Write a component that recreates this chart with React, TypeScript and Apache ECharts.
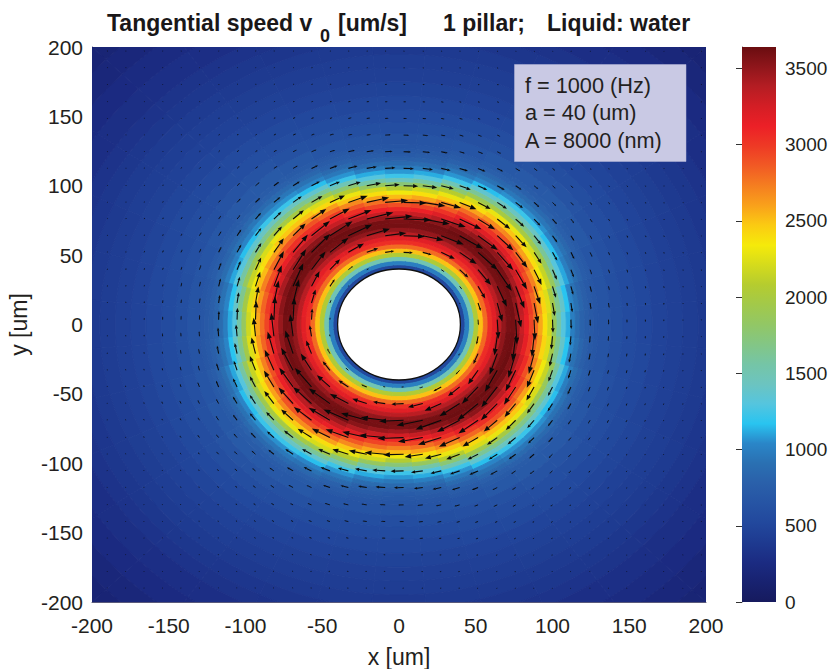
import React, { useEffect, useRef } from "react";
import * as echarts from "echarts";

// radial bin edges of the speed table (um)
const radiusEdges = [40,43,46,49,52,55,58,61,64,67,70,73,76,79,82,85,88,91,94,97,100,103,106,109,112,115,118,121,124,127,130,138,146,155,165,175,185,195,205,215,225,240,255,270,290];
// speed (um/s): one row per direction 0,10,...,170 deg; the field is point-symmetric
const speedRows = [
[520,1000,1500,2050,2500,2800,3050,3180,3350,3500,3590,3600,3480,3300,3120,2950,2780,2580,2380,2180,1850,1550,1300,1120,990,880,800,745,700,670,650,595,555,515,475,445,420,390,355,325,288,248,202,162],
[520,1000,1500,2050,2500,2800,3050,3180,3350,3500,3590,3610,3510,3340,3160,2990,2820,2630,2430,2240,1960,1650,1390,1170,1030,920,830,765,715,680,655,598,556,516,478,446,420,390,356,326,288,248,202,162],
[520,990,1490,2040,2500,2800,3050,3180,3350,3490,3590,3620,3560,3420,3240,3070,2900,2720,2520,2320,2150,1860,1570,1310,1110,990,885,810,750,710,664,606,562,520,482,450,422,392,358,328,289,249,203,163],
[510,990,1490,2030,2490,2800,3050,3190,3370,3500,3600,3630,3590,3460,3300,3130,2970,2800,2600,2400,2220,1920,1620,1370,1160,1030,920,835,770,725,690,620,572,528,486,452,424,394,360,330,290,250,204,164],
[510,980,1480,2030,2490,2790,3040,3180,3360,3490,3590,3630,3610,3510,3360,3190,3040,2890,2690,2490,2290,1980,1680,1420,1220,1060,950,860,790,740,710,636,584,536,492,456,426,396,362,332,291,251,205,165],
[510,980,1480,2030,2490,2790,3040,3170,3360,3490,3590,3620,3600,3500,3350,3180,3030,2880,2680,2480,2290,1980,1680,1420,1220,1060,950,860,790,740,706,634,582,535,490,455,425,395,360,330,290,250,205,165],
[520,990,1490,2040,2500,2800,3050,3180,3370,3500,3600,3630,3590,3460,3300,3130,2970,2800,2600,2400,2220,1920,1620,1370,1160,1030,920,835,770,725,688,618,570,524,484,450,422,392,358,328,289,249,204,164],
[520,1000,1500,2050,2500,2800,3050,3180,3350,3490,3590,3610,3530,3380,3200,3030,2860,2680,2480,2290,2080,1760,1480,1230,1070,960,860,790,735,700,662,602,558,515,475,444,418,388,354,324,287,247,202,162],
[520,1000,1500,2050,2500,2800,3050,3180,3350,3500,3590,3600,3480,3300,3120,2950,2780,2580,2380,2180,1850,1550,1300,1120,990,880,800,745,700,670,648,594,551,511,471,441,416,386,351,321,286,246,201,161],
[520,1000,1500,2050,2500,2800,3050,3180,3350,3500,3600,3580,3450,3260,3080,2910,2720,2520,2320,2060,1750,1450,1230,1080,960,860,785,730,690,660,640,590,550,510,470,440,415,385,350,320,285,245,200,160],
[520,1000,1500,2050,2500,2800,3050,3180,3350,3500,3600,3600,3490,3310,3120,2950,2780,2590,2390,2190,1850,1550,1300,1120,990,880,800,745,700,670,650,596,552,512,472,441,416,386,351,321,286,246,201,161],
[520,1000,1500,2050,2500,2800,3050,3180,3360,3500,3600,3620,3540,3390,3210,3040,2870,2690,2490,2300,2080,1760,1480,1230,1070,960,860,790,735,700,664,606,558,518,478,446,420,390,355,325,288,248,202,162],
[520,1000,1500,2050,2500,2800,3050,3190,3370,3510,3610,3630,3590,3470,3310,3140,2980,2810,2610,2410,2220,1920,1620,1370,1160,1030,920,835,770,725,694,622,570,526,486,452,424,394,360,330,290,250,204,164],
[510,980,1480,2030,2490,2790,3040,3180,3370,3510,3600,3630,3610,3520,3370,3200,3040,2890,2690,2490,2290,1980,1680,1420,1220,1060,950,860,790,740,712,638,586,538,494,458,428,398,364,334,293,253,207,167],
[510,980,1480,2030,2490,2790,3040,3170,3360,3500,3590,3630,3610,3510,3360,3190,3040,2880,2680,2480,2290,1980,1680,1420,1220,1060,950,860,790,740,706,634,582,536,492,456,426,396,362,332,291,251,205,165],
[520,990,1490,2040,2500,2800,3050,3170,3360,3500,3600,3630,3590,3460,3300,3130,2970,2800,2600,2400,2220,1920,1620,1370,1160,1030,920,835,770,725,684,618,572,528,488,454,425,395,360,330,290,250,204,164],
[520,1000,1500,2050,2510,2810,3060,3170,3370,3510,3600,3630,3560,3420,3240,3070,2900,2720,2520,2320,2150,1860,1570,1310,1110,990,885,810,750,710,664,606,562,522,482,450,422,392,358,328,289,249,203,163],
[520,1000,1500,2050,2510,2810,3060,3160,3360,3510,3610,3620,3520,3340,3160,2990,2820,2630,2430,2240,1960,1650,1390,1170,1030,920,830,765,715,680,655,598,556,516,476,446,420,390,356,326,288,248,202,162],
];
const rowStepDeg = 10;

// arrow length (um) per radial bin
const arrowLength = [0.8,1.5,2.5,4,6,8,10,12,14,16,17.5,18,18,17,16.5,16,15,13.5,12,11,9.5,8.5,7.8,7.2,6.7,6.3,5.8,5.3,4.8,4.4,3.6,2.8,2.2,1.6,1.2,1,0.8,0.7,0.6,0.6,0.5,0.5,0.5,0.4];

// quiver grid (um)
const arrowX = [-190,-178,-166,-154,-142,-130,-117.5,-105.5,-93.5,-81.5,-69,-57,-45,-33,-21,-9,3,15.5,27.5,39.5,51.5,64,76,88,100,112,124.5,136.5,148.5,160.5,172.5,185,197];
const arrowY = [197,185,173,160.5,148.5,136.5,124.5,112.5,100,88,76,64,52,39.5,27.5,15.5,3.5,-8.5,-21,-33,-45,-57,-69,-81.5,-93.5,-105.5,-117.5,-130,-142,-154,-166,-178,-190];

const holeRadius = [40];
const xTicks = [-200,-150,-100,-50,0,50,100,150,200];
const yTicks = [-200,-150,-100,-50,0,50,100,150,200];
const barTicks = [0,500,1000,1500,2000,2500,3000,3500];
const speedMax = 3640;
const palette = ["#161a5e","#182270","#1b2b82","#1e3a90","#22489d","#2654a4","#2a60aa","#2a70b2","#2a86c8","#29c4f0","#55c5de","#6cc4c0","#75c5a6","#83c685","#92c765","#a2c94a","#b5cc2f","#d5db1c","#f5ea0a","#fbcb12","#f9a11b","#f57e20","#f15a24","#ee3a25","#ec2027","#d41e25","#b51d23","#8f161b","#6a0d10"];
const infoLines = ["f = 1000 (Hz)", "a = 40 (um)", "A = 8000 (nm)"];

function binOf(r: number): number {
  const j = radiusEdges.findIndex((e, k) => r >= e && r < radiusEdges[k + 1]);
  return j < 0 ? radiusEdges.length - 2 : j;
}

const fieldData: number[][] = [];
for (let i = 0; i < speedRows.length * 2; i++) {
  speedRows[i % speedRows.length].forEach((v, j) => fieldData.push([i, j, v]));
}
const arrowData: number[][] = [];
arrowY.forEach((y) => arrowX.forEach((x) => {
  const r = Math.hypot(x, y);
  if (r >= 41) arrowData.push([x, y, arrowLength[binOf(r)]]);
}));

const fieldItem = (params: any, api: any) => {
  const i = api.value(0), j = api.value(1);
  const t0 = ((i - 0.5) * rowStepDeg * Math.PI) / 180;
  const t1 = ((i + 0.5) * rowStepDeg * Math.PI) / 180;
  const r0 = radiusEdges[j], r1 = radiusEdges[j + 1];
  const pts: number[][] = [];
  for (let k = 0; k <= 3; k++) {
    const t = t0 + ((t1 - t0) * k) / 3;
    pts.push(api.coord([r0 * Math.cos(t), r0 * Math.sin(t)]));
  }
  for (let k = 3; k >= 0; k--) {
    const t = t0 + ((t1 - t0) * k) / 3;
    pts.push(api.coord([r1 * Math.cos(t), r1 * Math.sin(t)]));
  }
  const c = api.visual("color");
  return { type: "polygon", shape: { points: pts }, style: { fill: c, stroke: c, lineWidth: 0.9 } };
};

const arrowItem = (params: any, api: any) => {
  const x = api.value(0), y = api.value(1), len = api.value(2);
  const r = Math.hypot(x, y) || 1;
  const x1 = x + (y / r) * len;
  const y1 = y - (x / r) * len;
  const a = api.coord([x, y]), b = api.coord([x1, y1]);
  const dx = b[0] - a[0], dy = b[1] - a[1];
  const L = Math.hypot(dx, dy) || 1;
  const ux = dx / L, uy = dy / L;
  const hl = Math.max(Math.min(L * 0.35, 7), 0.8);
  const hw = Math.max(Math.min(L * 0.14, 2.5), 0.6);
  const bx = b[0] - ux * hl, by = b[1] - uy * hl;
  return {
    type: "group",
    children: [
      { type: "line", shape: { x1: a[0], y1: a[1], x2: bx, y2: by }, style: { stroke: "#0a0a0a", lineWidth: L < 6 ? 0.9 : 1.1 } },
      { type: "polygon", shape: { points: [b, [bx - uy * hw, by + ux * hw], [bx + uy * hw, by - ux * hw]] }, style: { fill: "#0a0a0a" } },
    ],
  };
};

const holeItem = (params: any, api: any) => {
  const rad = api.value(0);
  const c = api.coord([0, 0]);
  const e = api.coord([rad, rad]);
  return {
    type: "ellipse",
    shape: { cx: c[0], cy: c[1], rx: e[0] - c[0], ry: c[1] - e[1] },
    style: { fill: "#ffffff", stroke: "#111111", lineWidth: 1.3 },
  };
};

const barItem = (params: any, api: any) => {
  const lo = api.coord([0, 0]);
  const hi = api.coord([1, speedMax]);
  return {
    type: "rect",
    shape: { x: lo[0], y: hi[1], width: hi[0] - lo[0], height: lo[1] - hi[1] },
    style: {
      fill: new echarts.graphic.LinearGradient(0, 1, 0, 0, palette.map((color, k) => ({ offset: k / (palette.length - 1), color }))),
    },
  };
};

const font = "'Liberation Sans', Arial, sans-serif";
const labelColor = "#231f20";
const titleStyle = { fontFamily: font, fontWeight: "bold", fontSize: 23, fill: "#1a1718", verticalAlign: "middle" };

export default function App() {
  const ref = useRef<HTMLDivElement>(null);
  useEffect(() => {
    const chart = echarts.init(ref.current!, null, { renderer: "svg" });
    const sideAxisCommon = {
      axisLine: { show: true, onZero: false, lineStyle: { color: "#5a5a7a", width: 1 } },
      axisTick: { show: false },
      splitLine: { show: false },
    };
    chart.setOption({
      animation: false,
      backgroundColor: "#ffffff",
      grid: [
        { left: 92, top: 47, width: 614, height: 555, containLabel: false, outerBoundsMode: "none" },
        { left: 742, top: 47, width: 34, height: 555, containLabel: false, outerBoundsMode: "none" },
      ],
      xAxis: [
        {
          type: "value", gridIndex: 0, min: -200, max: 200, interval: 50,
          name: "x [um]", nameLocation: "middle", nameGap: 43,
          nameTextStyle: { fontFamily: font, fontSize: 23, color: labelColor },
          axisLabel: { fontFamily: font, fontSize: 21, color: labelColor, margin: 13, customValues: xTicks, formatter: (v: number) => String(v) },
          ...sideAxisCommon,
        },
        { type: "value", gridIndex: 1, min: 0, max: 1, show: false },
      ],
      yAxis: [
        {
          type: "value", gridIndex: 0, min: -200, max: 200, interval: 50,
          name: "y [um]", nameLocation: "middle", nameGap: 55,
          nameTextStyle: { fontFamily: font, fontSize: 23, color: labelColor },
          axisLabel: { fontFamily: font, fontSize: 21, color: labelColor, margin: 9, customValues: yTicks, formatter: (v: number) => String(v) },
          ...sideAxisCommon,
        },
        {
          type: "value", gridIndex: 1, min: 0, max: speedMax, position: "right",
          axisLine: { show: true, lineStyle: { color: "#666666", width: 1 } },
          axisTick: { show: true, inside: true, length: 6, customValues: barTicks, lineStyle: { color: "#333333", width: 1 } },
          axisLabel: { fontFamily: font, fontSize: 19, color: labelColor, margin: 9, customValues: barTicks, formatter: (v: number) => String(v) },
          splitLine: { show: false },
        },
      ],
      visualMap: {
        show: false, type: "continuous", seriesIndex: 0, dimension: 2,
        min: 0, max: speedMax, inRange: { color: palette },
      },
      series: [
        { type: "custom", name: "speed", xAxisIndex: 0, yAxisIndex: 0, clip: true, silent: true, renderItem: fieldItem, data: fieldData, z: 1 },
        { type: "custom", name: "velocity", xAxisIndex: 0, yAxisIndex: 0, clip: true, silent: true, renderItem: arrowItem, data: arrowData, z: 2 },
        { type: "custom", name: "pillar", xAxisIndex: 0, yAxisIndex: 0, silent: true, renderItem: holeItem, data: holeRadius.map((r) => [r]), encode: { x: 0 }, z: 3 },
        { type: "custom", name: "colorbar", xAxisIndex: 1, yAxisIndex: 1, silent: true, renderItem: barItem, data: [[0, 0]], z: 1 },
      ],
      graphic: [
        { type: "rect", z: 10, shape: { x: 514.5, y: 64.5, width: 171.5, height: 97 }, style: { fill: "#c9c9e4", stroke: "#b8b8d8", lineWidth: 0.5 } },
        ...infoLines.map((t, k) => ({
          type: "text", z: 11, x: 525, y: 85 + k * 27.5,
          style: { text: t, fontFamily: font, fontSize: 21.7, fill: labelColor, verticalAlign: "middle", textAlign: "left" },
        })),
        { type: "text", z: 11, x: 107, y: 23, style: { ...titleStyle, text: "Tangential speed v" } },
        { type: "text", z: 11, x: 320, y: 36, style: { ...titleStyle, text: "0", fontSize: 18 } },
        { type: "text", z: 11, x: 338, y: 23, style: { ...titleStyle, text: "[um/s]" } },
        { type: "text", z: 11, x: 443, y: 23, style: { ...titleStyle, text: "1 pillar;" } },
        { type: "text", z: 11, x: 547, y: 23, style: { ...titleStyle, text: "Liquid: water" } },
      ],
    });
    return () => chart.dispose();
  }, []);
  return <div ref={ref} style={{ position: "fixed", left: 0, top: 0, width: 830, height: 669 }} />;
}
